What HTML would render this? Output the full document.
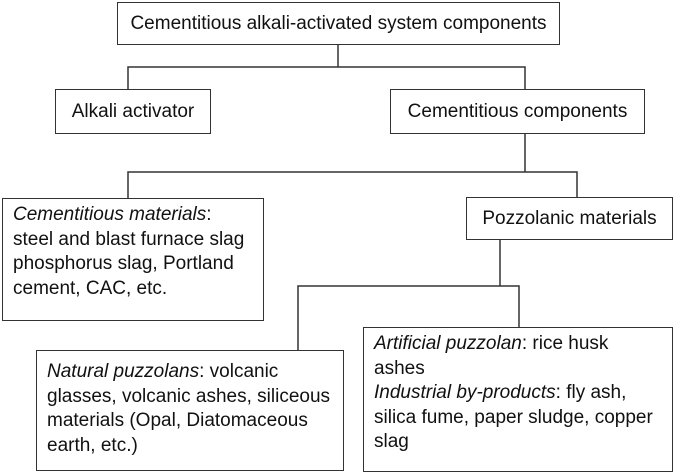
<!DOCTYPE html>
<html><head><meta charset="utf-8"><style>
html,body{margin:0;padding:0;background:#fff;}
body{width:674px;height:473px;position:relative;overflow:hidden;font-family:"Liberation Sans",Arial,sans-serif;font-size:19px;color:#111;}
.b{position:absolute;border:1.5px solid #333;box-sizing:border-box;background:#fff;}
.c{display:flex;align-items:center;justify-content:center;white-space:nowrap;}
.t{padding:4px 0 0 10px;line-height:24.5px;white-space:nowrap;}
svg{position:absolute;left:0;top:0;}
</style></head><body>
<svg width="674" height="473"><g stroke="#333" stroke-width="1.5" fill="none">
<path d="M338 44V67M128 89V67H525V89"/>
<path d="M525 133V172M128 198V172H577V197"/>
<path d="M500 239V286M298 350V286H519V327"/>
</g></svg>
<div class="b c" style="left:117px;top:2px;width:443px;height:43px;">Cementitious alkali-activated system components</div>
<div class="b c" style="left:55px;top:89px;width:156px;height:45px;">Alkali activator</div>
<div class="b c" style="left:390px;top:89px;width:255px;height:45px;">Cementitious components</div>
<div class="b t" style="left:2px;top:198px;width:262px;height:123px;"><i>Cementitious materials</i>:<br>steel and blast furnace slag<br>phosphorus slag, Portland<br>cement, CAC, etc.</div>
<div class="b c" style="left:466px;top:197px;width:207px;height:43px;">Pozzolanic materials</div>
<div class="b t" style="left:36px;top:350px;width:308px;height:121px;padding-top:9px;"><i>Natural puzzolans</i>: volcanic<br>glasses, volcanic ashes, siliceous<br>materials (Opal, Diatomaceous<br>earth, etc.)</div>
<div class="b t" style="left:363px;top:327px;width:310px;height:145px;"><i>Artificial puzzolan</i>: rice husk<br>ashes<br><i>Industrial by-products</i>: fly ash,<br>silica fume, paper sludge, copper<br>slag</div>
</body></html>
